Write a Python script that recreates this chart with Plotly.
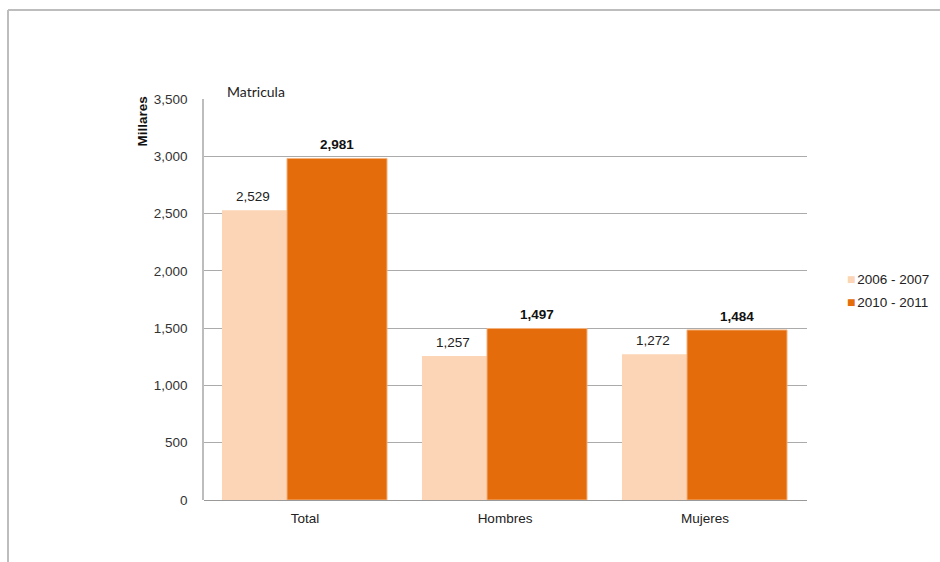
import plotly.graph_objects as go

categories = ["Total", "Hombres", "Mujeres"]
series_names = ["2006 - 2007", "2010 - 2011"]
values_2006 = [2529, 1257, 1272]
values_2010 = [2981, 1497, 1484]
y_ticks = [0, 500, 1000, 1500, 2000, 2500, 3000, 3500]

LIGHT = "#FBD5B5"
DARK = "#E46C0A"
FONT = "Liberation Sans, Arial, sans-serif"
FS = 13.5

x_idx = list(range(len(categories)))

fig = go.Figure()
fig.add_trace(go.Bar(
    x=x_idx, y=values_2006, name=series_names[0],
    marker=dict(color=LIGHT, line=dict(width=0)),
    width=0.5, offset=-0.415, showlegend=False,
))
fig.add_trace(go.Bar(
    x=x_idx, y=values_2010, name=series_names[1],
    marker=dict(color=DARK, line=dict(color="#F3B27E", width=1)),
    width=0.5, offset=-0.09, showlegend=False,
))

annotations = []
for i, v in enumerate(values_2006):
    annotations.append(dict(x=i - 0.26, y=v, xref="x", yref="y", text=f"{v:,}",
                            showarrow=False, yanchor="bottom", yshift=4,
                            font=dict(family=FONT, size=FS, color="#222")))
for i, v in enumerate(values_2010):
    annotations.append(dict(x=i + 0.16, y=v, xref="x", yref="y", text=f"<b>{v:,}</b>",
                            showarrow=False, yanchor="bottom", yshift=4,
                            font=dict(family=FONT, size=FS, color="#111")))
annotations.append(dict(x=0.035, y=1.0, xref="paper", yref="paper", text="Matricula",
                        showarrow=False, xanchor="left", yanchor="bottom", yshift=-3,
                        font=dict(family="Lato, Open Sans, sans-serif", size=14, color="#222")))
annotations.append(dict(x=-0.102, y=1.0, xref="paper", yref="paper", text="<b>Millares</b>",
                        showarrow=False, textangle=-90, xanchor="center", yanchor="top",
                        yshift=5, font=dict(family=FONT, size=13.5, color="#111")))

# compact legend (text items)
legend_colors = [LIGHT, DARK]
for k, (name, col) in enumerate(zip(series_names, legend_colors)):
    annotations.append(dict(
        x=(845 - 204) / 603, y=1 - (279 + 23 * k - 99) / 401, xref="paper", yref="paper",
        text=f"<span style='color:{col};font-size:14px'>■</span><span style='font-size:6px'> </span>{name}",
        showarrow=False, xanchor="left", yanchor="middle",
        font=dict(family=FONT, size=FS, color="#222")))

fig.update_layout(
    width=940, height=562,
    margin=dict(l=204, r=133, t=99, b=62, autoexpand=False),
    paper_bgcolor="white", plot_bgcolor="white",
    barmode="overlay",
    showlegend=False,
    xaxis=dict(range=[-0.505, 2.51], tickmode="array", tickvals=x_idx, ticktext=categories,
               showgrid=False, zeroline=False, showline=False, ticks="",
               ticklabelstandoff=8,
               tickfont=dict(family=FONT, size=FS, color="#222")),
    yaxis=dict(range=[0, 3500], tickmode="array", tickvals=y_ticks,
               ticktext=[f"{t:,}" for t in y_ticks],
               showgrid=True, gridcolor="#ABABAB", gridwidth=1,
               zeroline=True, zerolinecolor="#999999", zerolinewidth=1,
               showline=True, linecolor="#BDBDBD", linewidth=1.5,
               ticks="", ticklabelstandoff=12,
               tickfont=dict(family=FONT, size=FS, color="#333")),
    annotations=annotations,
    font=dict(family=FONT),
)

# outer frame (cropped border)
fig.add_shape(type="line", xref="paper", yref="paper",
              x0=(8 - 204) / 603, x1=(940 - 204) / 603,
              y0=1 + (99 - 10) / 401, y1=1 + (99 - 10) / 401,
              line=dict(color="#BDBDBD", width=2))
fig.add_shape(type="line", xref="paper", yref="paper",
              x0=(8 - 204) / 603, x1=(8 - 204) / 603,
              y0=1 + (99 - 10) / 401, y1=-(562 - 500) / 401,
              line=dict(color="#BDBDBD", width=2))

fig.write_html("out.html", config={"displayModeBar": False},
               post_script="document.body.style.margin='0';document.body.style.overflow='hidden';")
